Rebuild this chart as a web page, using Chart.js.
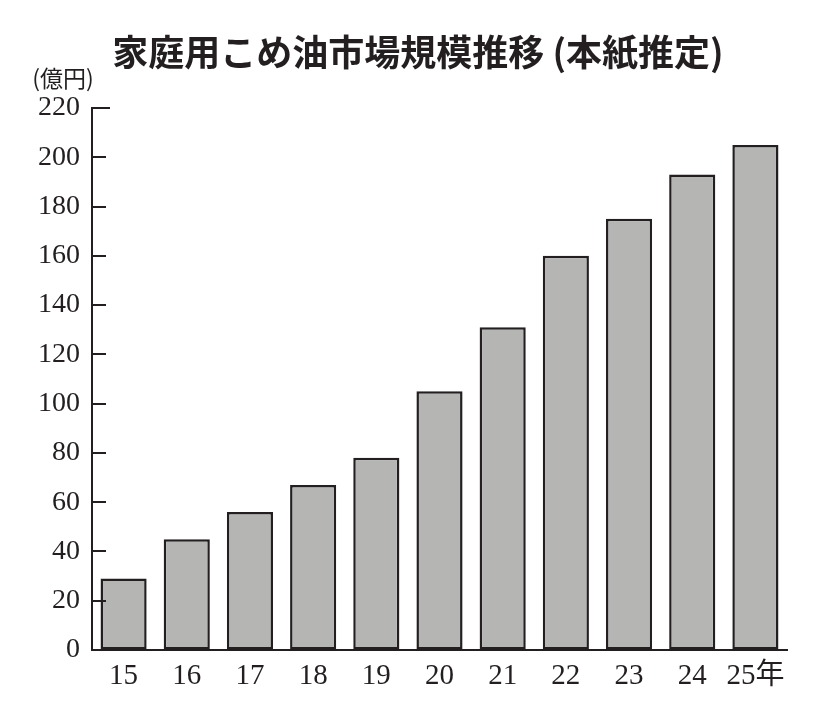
<!DOCTYPE html>
<html>
<head>
<meta charset="utf-8">
<script src="https://cdn.jsdelivr.net/npm/chart.js@4.4.1/dist/chart.umd.min.js"></script>
<style>
  html, body { margin: 0; padding: 0; background: #fff; }
  #wrap { width: 820px; height: 720px; position: relative; }
</style>
</head>
<body>
<div id="wrap"><canvas id="grafico"></canvas></div>
<script>
var anos = ["15", "16", "17", "18", "19", "20", "21", "22", "23", "24", "25年"];
var mercado = [29, 45, 56, 67, 78, 105, 131, 160, 175, 193, 205];
var titulo = "家庭用こめ油市場規模推移 (本紙推定)";
var unidade = "(億円)";

var corLinha = "#231f20";
var fonteNum = '"Liberation Serif", "Noto Sans CJK JP", serif';

// titulo, unidade e ticks do eixo y desenhados para dentro
var extras = {
  id: "extras",
  afterDraw: function (chart) {
    var ctx = chart.ctx;
    var y = chart.scales.y;
    var area = chart.chartArea;
    ctx.save();
    ctx.strokeStyle = corLinha;
    ctx.lineWidth = 2;
    y.ticks.forEach(function (t) {
      if (t.value === 0) return;
      var py = Math.round(y.getPixelForValue(t.value));
      var comp = t.value === y.max ? 18 : 14;
      ctx.beginPath();
      ctx.moveTo(area.left, py);
      ctx.lineTo(area.left + comp, py);
      ctx.stroke();
    });
    ctx.fillStyle = corLinha;
    ctx.textAlign = "center";
    ctx.textBaseline = "middle";
    ctx.font = '23px "Noto Sans CJK JP"';
    ctx.fillText(unidade, area.left - 29, area.top - 30);
    ctx.font = 'bold 36px "Noto Sans CJK JP"';
    ctx.fillText(titulo, chart.width / 2 + 8, area.top - 56);
    ctx.restore();
  }
};

new Chart(document.getElementById("grafico").getContext("2d"), {
  type: "bar",
  data: {
    labels: anos,
    datasets: [{
      data: mercado,
      backgroundColor: "#b5b6b4",
      borderColor: corLinha,
      borderWidth: 2.5,
      borderSkipped: false,
      categoryPercentage: 1,
      barPercentage: 0.73
    }]
  },
  options: {
    responsive: true,
    maintainAspectRatio: false,
    animation: false,
    layout: { padding: { left: 0, right: 33, top: 108, bottom: 0 } },
    plugins: {
      legend: { display: false },
      tooltip: { enabled: false }
    },
    scales: {
      x: {
        grid: { display: false },
        border: { display: true, color: corLinha, width: 2 },
        ticks: { color: corLinha, font: { family: fonteNum, size: 29 }, padding: 1, maxRotation: 0 },
        afterFit: function (s) { s.height = 70; }
      },
      y: {
        min: 0,
        max: 220,
        grid: { drawOnChartArea: false, drawTicks: false },
        border: { display: true, color: corLinha, width: 2 },
        ticks: { stepSize: 20, color: corLinha, font: { family: fonteNum, size: 28 }, padding: 12 },
        afterFit: function (s) { s.width = 92; }
      }
    }
  },
  plugins: [extras]
});
</script>
</body>
</html>
